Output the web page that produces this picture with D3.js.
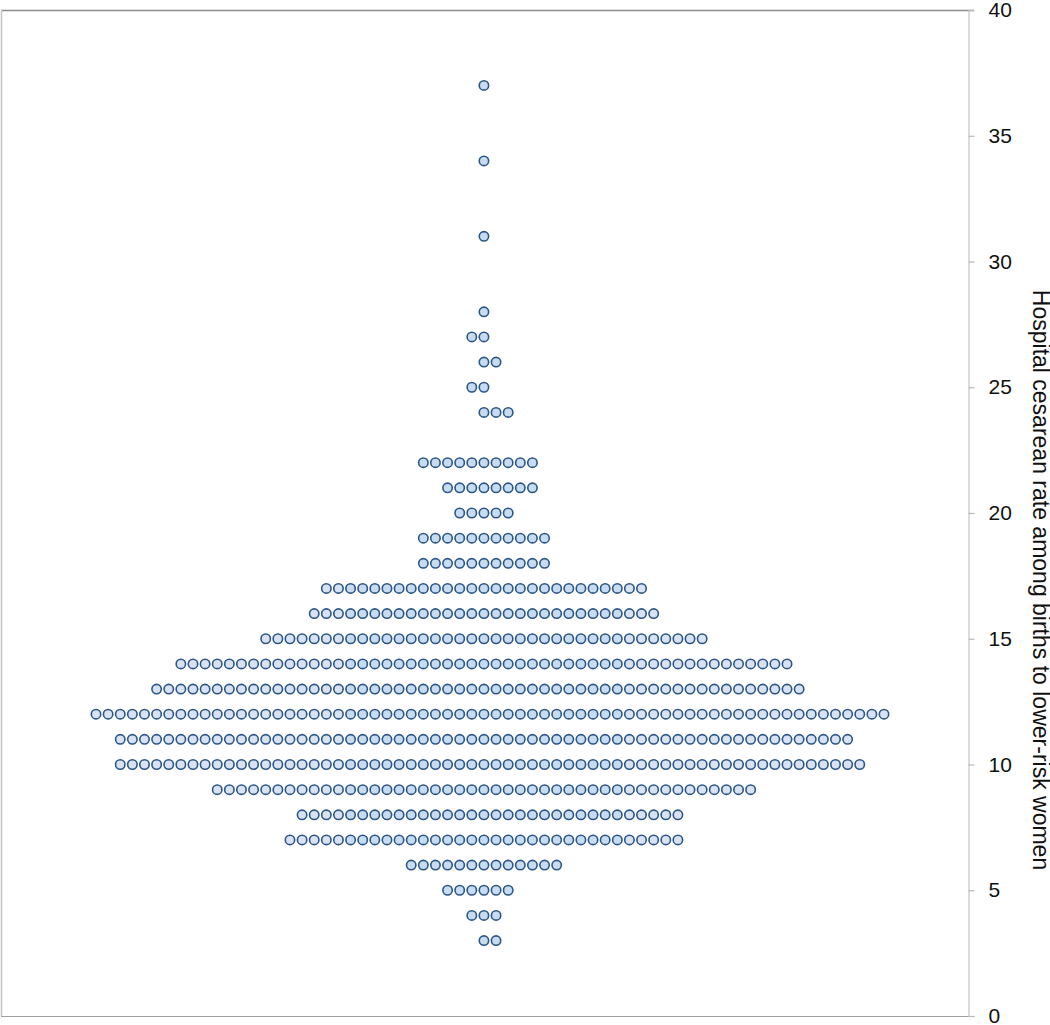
<!DOCTYPE html>
<html>
<head>
<meta charset="utf-8">
<script src="https://cdn.jsdelivr.net/npm/d3@7"></script>
<style>
  html, body { margin: 0; padding: 0; background: #ffffff; }
  svg { display: block; }
</style>
</head>
<body>
<div id="chart"></div>
<script>
// Cesarean rate (%) rows, number of hospitals at each rate, and first slot of each row
const rates      = [3, 4, 5, 6, 7, 8, 9, 10, 11, 12, 13, 14, 15, 16, 17, 18, 19, 20, 21, 22, 24, 25, 26, 27, 28, 31, 34, 37];
const counts     = [2, 3, 6, 13, 33, 32, 45, 62, 61, 66, 54, 51, 37, 29, 27, 11, 11, 5, 8, 10, 3, 2, 2, 2, 1, 1, 1, 1];
const firstSlot  = [0, -1, -3, -6, -16, -15, -22, -30, -30, -32, -27, -25, -18, -14, -13, -5, -5, -2, -3, -5, 0, -1, 0, -1, 0, 0, 0, 0];
const yTicks     = [0, 5, 10, 15, 20, 25, 30, 35, 40];
const axisTitle  = "Hospital cesarean rate among births to lower-risk women";

const W = 1050, H = 1025;
const plot = { left: 1, right: 968, top: 10, bottom: 1016 };

const svg = d3.select("#chart").append("svg")
  .attr("width", W).attr("height", H);

const y = d3.scaleLinear().domain([0, 40]).range([plot.bottom, plot.top]);
// horizontal slot scale: slot 0 is the centre column
const x = d3.scaleLinear().domain([-32, 33]).range([96, 884]);

// frame
svg.append("line").attr("x1", plot.left).attr("x2", 974)
  .attr("y1", plot.top + 0.5).attr("y2", plot.top + 0.5)
  .attr("stroke", "#8c8c8c").attr("stroke-width", 1.5);
svg.append("line").attr("x1", plot.left).attr("x2", 974)
  .attr("y1", plot.bottom + 0.5).attr("y2", plot.bottom + 0.5)
  .attr("stroke", "#a0a0a0").attr("stroke-width", 1.2);
svg.append("line").attr("x1", plot.left + 0.5).attr("x2", plot.left + 0.5)
  .attr("y1", plot.top).attr("y2", plot.bottom)
  .attr("stroke", "#c4c4c4").attr("stroke-width", 1.5);

// right axis
const axis = d3.axisRight(y).tickValues(yTicks).tickSize(6).tickPadding(14)
  .tickFormat(d3.format("d"));
const gAxis = svg.append("g").attr("transform", `translate(${plot.right + 0.5},0)`).call(axis);
gAxis.select(".domain").attr("stroke", "#c4c4c4").attr("stroke-width", 1.2);
gAxis.selectAll(".tick line").attr("stroke", "#b8b8b8").attr("stroke-width", 1.2);
gAxis.selectAll(".tick text")
  .attr("font-family", "Liberation Sans, Arial, sans-serif")
  .attr("font-size", 21).attr("fill", "#111");

// axis title
svg.append("text")
  .attr("transform", `translate(1033, 580) rotate(90)`)
  .attr("text-anchor", "middle")
  .attr("font-family", "Liberation Sans, Arial, sans-serif")
  .attr("font-size", 23).attr("fill", "#111")
  .text(axisTitle);

// dots
const dots = [];
rates.forEach((r, i) => {
  for (let j = 0; j < counts[i]; j++) dots.push({ rate: r, slot: firstSlot[i] + j });
});

svg.append("g").selectAll("circle").data(dots).join("circle")
  .attr("cx", d => x(d.slot))
  .attr("cy", d => y(d.rate))
  .attr("r", 4.7)
  .attr("fill", d => Math.abs(d.slot) < 12 ? "#c7dbf1" : "#d8e2f3")
  .attr("stroke", "#2b5686")
  .attr("stroke-width", 1.6);
</script>
</body>
</html>
